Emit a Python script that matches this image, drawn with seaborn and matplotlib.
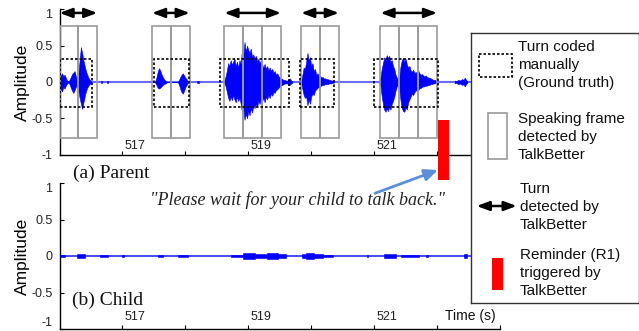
import matplotlib
matplotlib.use("Agg")
import matplotlib.pyplot as plt
import seaborn as sns
from matplotlib.patches import Rectangle

# ---- data ----
# parent waveform, burst by burst (time s, upper envelope, lower envelope)
b1_t = [516.00, 516.02, 516.04, 516.06, 516.08, 516.10, 516.12, 516.14, 516.16, 516.18, 516.20, 516.22, 516.24,
        516.26, 516.28, 516.30, 516.32, 516.34, 516.36, 516.38, 516.40, 516.42, 516.44, 516.46, 516.48, 516.50]
b1_hi = [.03, .09, .12, .08, .10, .06, .02, .01, .03, .07, .11, .13, .15,
         .08, .03, .12, .30, .48, .40, .30, .22, .15, .10, .06, .03, .01]
b1_lo = [-.03, -.10, -.13, -.07, -.09, -.05, -.02, -.01, -.03, -.08, -.12, -.15, -.11,
         -.07, -.03, -.12, -.22, -.30, -.37, -.28, -.20, -.13, -.08, -.05, -.03, -.01]

b2_t = [517.52, 517.54, 517.56, 517.58, 517.60, 517.62, 517.64, 517.66, 517.68, 517.70, 517.72,
        517.88, 517.90, 517.92, 517.94, 517.96, 517.98, 518.00, 518.02, 518.04]
b2_hi = [.01, .06, .14, .19, .16, .11, .07, .04, .02, .01, 0, 0, .03, .07, .10, .12, .09, .06, .04, .01]
b2_lo = [-.01, -.04, -.08, -.09, -.08, -.06, -.04, -.03, -.02, -.01, 0, 0, -.04, -.10, -.14, -.16, -.12, -.07, -.04, -.01]

b3_t = [518.62, 518.64, 518.66, 518.68, 518.70, 518.72, 518.74, 518.76, 518.78, 518.80, 518.82, 518.84, 518.86,
        518.88, 518.90, 518.92, 518.94, 518.96, 518.98, 519.00, 519.02, 519.04, 519.06, 519.08, 519.10, 519.12,
        519.14, 519.16, 519.18, 519.20, 519.22, 519.24, 519.26, 519.28, 519.30, 519.32, 519.34, 519.36, 519.38,
        519.40, 519.42, 519.44, 519.46, 519.48, 519.50, 519.52, 519.54, 519.56, 519.58, 519.60, 519.62, 519.64,
        519.66, 519.68, 519.70]
b3_hi = [.02, .08, .16, .26, .22, .30, .24, .28, .32, .22, .28, .20, .30,
         .25, .45, .36, .55, .42, .50, .44, .40, .46, .34, .38, .32, .36,
         .28, .32, .26, .30, .24, .20, .25, .18, .22, .16, .20, .15, .18,
         .13, .15, .10, .12, .08, .06, .05, .04, .03, .03, .02, .02, .03,
         .05, .02, .01]
b3_lo = [-.02, -.06, -.14, -.22, -.26, -.20, -.25, -.18, -.24, -.28, -.20, -.26, -.22,
         -.30, -.42, -.36, -.52, -.44, -.50, -.40, -.46, -.36, -.42, -.32, -.36, -.30,
         -.34, -.26, -.30, -.24, -.26, -.22, -.28, -.20, -.24, -.18, -.22, -.16, -.19,
         -.14, -.15, -.11, -.10, -.08, -.06, -.05, -.04, -.03, -.02, -.02, -.02, -.03,
         -.04, -.02, -.01]

b4_t = [519.84, 519.86, 519.88, 519.90, 519.92, 519.94, 519.96, 519.98, 520.00, 520.02, 520.04, 520.06, 520.08,
        520.10, 520.12, 520.14, 520.16, 520.18, 520.20, 520.22, 520.24, 520.26, 520.28, 520.30, 520.32, 520.34, 520.36]
b4_hi = [.01, .10, .20, .18, .28, .40, .30, .34, .22, .26, .15, .18, .10,
         .12, .08, .09, .06, .07, .05, .05, .04, .04, .03, .03, .02, .02, .01]
b4_lo = [-.01, -.10, -.18, -.22, -.20, -.32, -.24, -.30, -.20, -.16, -.18, -.12, -.10,
         -.08, -.07, -.06, -.05, -.04, -.04, -.03, -.03, -.03, -.02, -.02, -.02, -.01, -.01]

b5_t = [521.08, 521.10, 521.12, 521.14, 521.16, 521.18, 521.20, 521.22, 521.24, 521.26, 521.28, 521.30, 521.32,
        521.34, 521.36, 521.38, 521.40, 521.42, 521.44, 521.46, 521.48, 521.50, 521.52, 521.54, 521.56, 521.58,
        521.60, 521.62, 521.64, 521.66, 521.68, 521.70, 521.72, 521.74, 521.76, 521.78, 521.80, 521.82, 521.84,
        521.86, 521.88, 521.90, 521.92, 521.94, 521.96, 521.98, 522.00]
b5_hi = [.01, .06, .18, .26, .34, .30, .37, .33, .36, .28, .30, .22, .18,
         .10, .06, .04, .08, .22, .30, .33, .28, .32, .24, .20, .22, .16,
         .14, .17, .12, .14, .10, .16, .12, .10, .11, .09, .08, .09, .07,
         .06, .06, .05, .04, .03, .03, .02, .01]
b5_lo = [-.01, -.05, -.20, -.30, -.38, -.41, -.36, -.40, -.34, -.38, -.30, -.26, -.20,
         -.12, -.06, -.04, -.10, -.26, -.36, -.40, -.41, -.35, -.38, -.28, -.24, -.20,
         -.16, -.18, -.14, -.12, -.10, -.11, -.09, -.08, -.07, -.06, -.06, -.05, -.05,
         -.04, -.04, -.03, -.03, -.02, -.02, -.01, -.01]

b6_t = [522.28, 522.30, 522.32, 522.34, 522.36, 522.38, 522.40, 522.42, 522.44, 522.46, 522.48]
b6_amp = [.02, .01, .02, .03, .02, .03, .04, .03, .06, .03, .01]

# small isolated blips in the parent track
dot_t = [516.67, 516.76, 518.20]
dot_amp = [0.02, 0.02, 0.02]

# child waveform segments
child_start = [516.00, 516.28, 516.64, 517.00, 517.56, 517.88, 518.72, 518.92, 519.10, 519.30, 519.48,
               519.86, 519.92, 520.04, 520.18, 520.88, 521.16, 521.42, 521.82, 522.42]
child_end = [516.08, 516.40, 516.77, 517.02, 517.64, 518.04, 518.92, 519.10, 519.30, 519.48, 519.60,
             519.92, 520.04, 520.18, 520.34, 520.90, 521.34, 521.72, 521.85, 522.48]
child_amp = [0.012, 0.03, 0.015, 0.008, 0.015, 0.012, 0.02, 0.045, 0.03, 0.035, 0.025,
             0.03, 0.045, 0.03, 0.015, 0.008, 0.025, 0.02, 0.015, 0.025]

baseline_t = [516.0, 523.0]
baseline_y = [0.0, 0.0]

# speaking frames (frame edges for each detected turn)
frame_edges = [
    [516.0, 516.3, 516.6],
    [517.47, 517.77, 518.07],
    [518.62, 518.92, 519.22, 519.52],
    [519.84, 520.14, 520.44],
    [521.1, 521.4, 521.7, 522.0],
]
frame_half = 0.77

# manually coded turns (ground truth)
gt_start = [516.0, 517.5, 518.55, 519.82, 521.0]
gt_end = [516.52, 518.05, 519.64, 520.37, 522.01]
gt_lo, gt_hi = -0.35, 0.32

reminder_start, reminder_end = 522.02, 522.19
reminder_lo, reminder_hi = -1.35, -0.52

xticks = [517, 518, 519, 520, 521, 522, 523]
xlabels = ["517", "", "519", "", "521", "", ""]
yticks = [-1, -0.5, 0, 0.5, 1]
ylabels = ["-1", "-0.5", "0", "0.5", "1"]

# ---- figure ----
sns.set_theme(style="white")
plt.rcParams["font.family"] = ["Liberation Sans", "DejaVu Sans"]
plt.rcParams["axes.unicode_minus"] = False

W, H = 639, 331
fig = plt.figure(figsize=(W / 100, H / 100), dpi=100)


def px_axes(l, t, r, b):
    return fig.add_axes([l / W, 1 - b / H, (r - l) / W, (b - t) / H])


turn_arrow = dict(arrowstyle="<|-|>,head_length=0.75,head_width=0.28", color="black",
                  lw=1.8, mutation_scale=10, shrinkA=0, shrinkB=0)

ax1 = px_axes(59.5, 9.3, 500, 154.7)
ax2 = px_axes(59.5, 183, 500, 329)

for ax, lab_y in ((ax1, 0.06), (ax2, 0.082)):
    ax.set_xlim(516, 523)
    ax.set_ylim(-1, 1)
    sns.despine(ax=ax)
    for s in ("left", "bottom"):
        ax.spines[s].set_color("black")
        ax.spines[s].set_linewidth(1.0)
    ax.set_xticks(xticks)
    ax.set_yticks(yticks)
    ax.set_yticklabels(ylabels)
    ax.tick_params(axis="x", bottom=True, direction="in", length=3, width=0.8, color="black", labelbottom=False)
    ax.tick_params(axis="y", left=True, direction="in", length=3, width=0.8, color="black",
                   pad=5, labelsize=9, labelcolor="#222222")
    for t, lab in zip(xticks, xlabels):
        if lab:
            ax.text(t + 0.03, lab_y, lab, transform=ax.get_xaxis_transform(),
                    fontsize=9, color="#222222", ha="left", va="center")
    ax.set_ylabel("Amplitude", fontsize=12.5, color="black")
    ax.yaxis.set_label_coords(-0.066, 0.5)

# keep the end labels inside the figure, as in the original
ax1.get_yticklabels()[-1].set_va("top")
ax2.get_yticklabels()[-1].set_va("top")
ax2.get_yticklabels()[0].set_va("bottom")

# parent track
sns.lineplot(x=baseline_t, y=baseline_y, ax=ax1, color="#6b6bff", lw=1.5, zorder=2, legend=False)
for t, hi, lo in ((b1_t, b1_hi, b1_lo), (b2_t, b2_hi, b2_lo), (b3_t, b3_hi, b3_lo),
                  (b4_t, b4_hi, b4_lo), (b5_t, b5_hi, b5_lo)):
    ax1.fill_between(t, lo, hi, color="#0000ff", lw=0.4, zorder=3)
ax1.fill_between(b6_t, [-a for a in b6_amp], b6_amp, color="#0000ff", lw=0.4, zorder=3)
for t, a in zip(dot_t, dot_amp):
    ax1.fill_between([t - 0.01, t + 0.01], [-a, -a], [a, a], color="#0000ff", lw=0.4, zorder=3)

for edges in frame_edges:
    for a, b in zip(edges[:-1], edges[1:]):
        ax1.add_patch(Rectangle((a, -frame_half), b - a, 2 * frame_half, fill=False,
                                ec="#9a9a9a", lw=1.2, zorder=4))
    ax1.annotate("", xy=(edges[-1], 0.95), xytext=(edges[0], 0.95),
                 arrowprops=turn_arrow, annotation_clip=False, zorder=5)

for s, e in zip(gt_start, gt_end):
    ax1.add_patch(Rectangle((s, gt_lo), e - s, gt_hi - gt_lo, fill=False, ec="black",
                            ls=(0, (1.5, 1.2)), lw=1.2, zorder=5))

ax1.add_patch(Rectangle((reminder_start, reminder_lo), reminder_end - reminder_start,
                        reminder_hi - reminder_lo, color="#ff0000", lw=0, clip_on=False, zorder=6))

# child track
sns.lineplot(x=baseline_t, y=baseline_y, ax=ax2, color="#2b2bff", lw=1.2, zorder=2, legend=False)
for s, e, a in zip(child_start, child_end, child_amp):
    ax2.fill_between([s, e], [-a, -a], [a, a], color="#0000ff", lw=0.4, zorder=3)

# annotations
fig.text(73 / W, 1 - 173 / H, "(a) Parent", family="Liberation Serif", fontsize=14, color="#111111", va="center")
fig.text(72 / W, 1 - 300.7 / H, "(b) Child", family="Liberation Serif", fontsize=14, color="#111111", va="center")
fig.text(150 / W, 1 - 200 / H, "\"Please wait for your child to talk back.\"", family="Liberation Serif",
         style="italic", fontsize=13, color="#222222", va="center")
ax2.annotate("", xy=(438 / W, 1 - 170 / H), xytext=(375 / W, 1 - 193.3 / H),
             xycoords="figure fraction", textcoords="figure fraction",
             arrowprops=dict(arrowstyle="-|>,head_length=0.8,head_width=0.35", color="#5b8fd9",
                             lw=2, mutation_scale=10, shrinkA=0, shrinkB=0),
             annotation_clip=False)
fig.text(445 / W, 1 - 315.8 / H, "Time (s)", fontsize=10, color="#111111", va="center")

# legend box
lax = px_axes(470.7, 33, 638.5, 302.7)
lax.set_zorder(10)
lax.set_facecolor("white")
lax.set_xlim(470.7, 638.5)
lax.set_ylim(302.7, 33)
lax.set_xticks([])
lax.set_yticks([])
for s in lax.spines.values():
    s.set_visible(True)
    s.set_color("#333333")
    s.set_linewidth(1.0)

lax.add_patch(Rectangle((479, 54), 33, 23, fill=False, ec="black", ls=(0, (1.5, 1.2)), lw=1.2))
lax.add_patch(Rectangle((487.7, 113), 19.3, 46, fill=False, ec="#9a9a9a", lw=1.2))
lax.annotate("", xy=(516.7, 206), xytext=(476.7, 206), arrowprops=turn_arrow)
lax.add_patch(Rectangle((492, 258), 10.7, 32, color="#ff0000", lw=0))

legend_text = [
    (518, 65, "Turn coded\nmanually\n(Ground truth)"),
    (518, 137, "Speaking frame\ndetected by\nTalkBetter"),
    (520, 207, "Turn\ndetected by\nTalkBetter"),
    (520, 273, "Reminder (R1)\ntriggered by\nTalkBetter"),
]
for x, y, txt in legend_text:
    lax.text(x, y, txt, fontsize=11, color="#111111", ha="left", va="center", linespacing=1.38)

fig.savefig("out.png", dpi=100)
